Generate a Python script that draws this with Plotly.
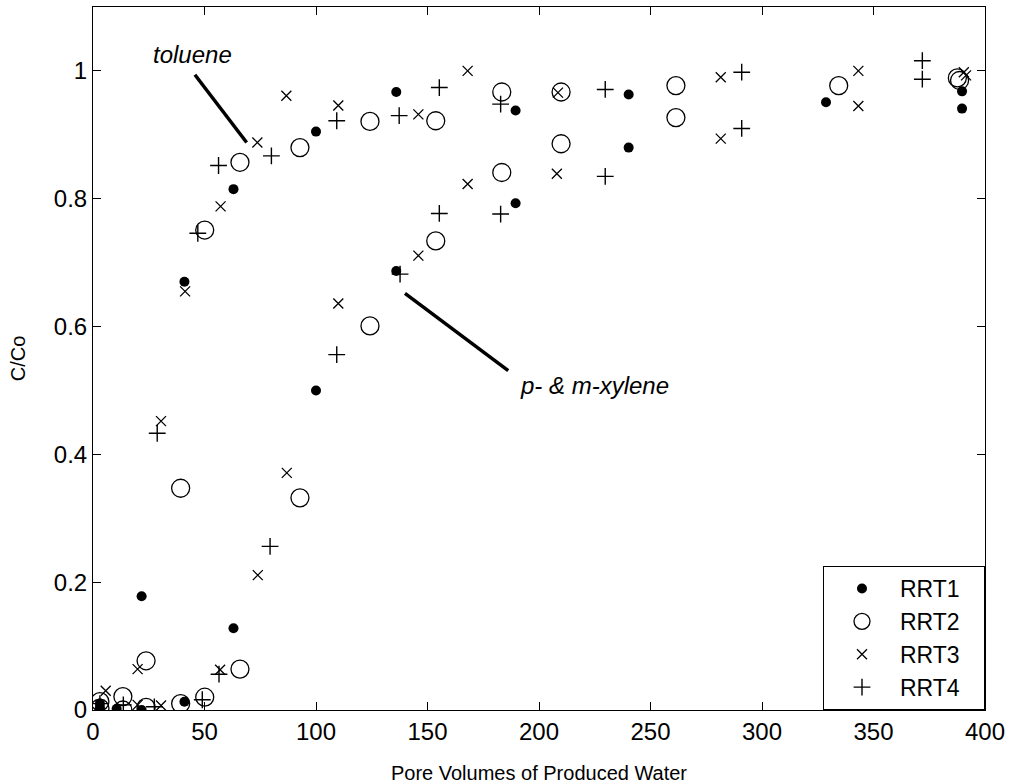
import plotly.graph_objects as go

# ---- data (pore volumes, C/Co) ----
rrt1_x = [3.1, 3.1, 10.6, 21.8, 21.8, 41.0, 41.0, 63.0, 63.0, 100.0, 100.0,
          136.0, 136.0, 189.5, 189.5, 240.2, 240.2, 328.7, 389.7, 389.7]
rrt1_y = [0.010, 0.004, 0.002, 0.178, 0.000, 0.670, 0.013, 0.815, 0.128, 0.905, 0.500,
          0.967, 0.687, 0.938, 0.793, 0.963, 0.880, 0.951, 0.968, 0.941]

rrt2_x = [3.1, 3.1, 13.4, 13.4, 23.8, 23.8, 39.3, 39.3, 50.1, 50.1, 65.9, 65.9,
          92.8, 92.8, 124.2, 124.2, 153.7, 153.7, 183.3, 183.3, 209.9, 209.9,
          261.4, 261.4, 334.4, 387.6, 388.6]
rrt2_y = [0.013, 0.003, 0.021, 0.000, 0.077, 0.004, 0.347, 0.010, 0.751, 0.020, 0.857, 0.064,
          0.880, 0.332, 0.921, 0.601, 0.922, 0.734, 0.967, 0.841, 0.967, 0.886,
          0.977, 0.927, 0.977, 0.989, 0.985]

rrt3_x = [3.1, 5.7, 20.0, 20.0, 30.5, 30.5, 41.3, 57.2, 57.0, 73.7, 73.9, 86.7, 86.9,
          110.0, 110.0, 145.9, 145.9, 168.0, 168.0, 208.5, 208.0, 281.5, 281.5,
          343.2, 343.2, 390.5, 391.5]
rrt3_y = [0.008, 0.030, 0.064, 0.008, 0.452, 0.007, 0.655, 0.788, 0.063, 0.888, 0.211, 0.961, 0.371,
          0.946, 0.636, 0.932, 0.711, 1.000, 0.823, 0.966, 0.839, 0.990, 0.894,
          1.000, 0.945, 0.998, 0.993]

rrt4_x = [3.1, 13.6, 27.5, 28.8, 47.0, 49.0, 56.3, 56.5, 80.0, 79.4, 109.3, 109.3,
          137.3, 137.7, 155.3, 155.3, 182.8, 182.8, 229.7, 229.7, 290.9, 290.9, 371.9, 371.9]
rrt4_y = [0.010, 0.008, 0.005, 0.433, 0.746, 0.016, 0.852, 0.056, 0.867, 0.256, 0.922, 0.556,
          0.930, 0.682, 0.974, 0.777, 0.948, 0.776, 0.971, 0.835, 0.998, 0.910, 1.016, 0.987]

series_names = ["RRT1", "RRT2", "RRT3", "RRT4"]

x_ticks = [0, 50, 100, 150, 200, 250, 300, 350, 400]
y_ticks = [0, 0.2, 0.4, 0.6, 0.8, 1.0]
y_tick_labels = ["0", "0.2", "0.4", "0.6", "0.8", "1"]

FONT = "Liberation Sans, Arial, sans-serif"
PAD = "\u00a0\u00a0\u00a0"  # right padding inside legend box

fig = go.Figure()
fig.add_trace(go.Scatter(x=rrt1_x, y=rrt1_y, mode="markers", name=series_names[0] + PAD,
                         marker=dict(symbol="circle", size=10, color="black",
                                     line=dict(width=0))))
fig.add_trace(go.Scatter(x=rrt2_x, y=rrt2_y, mode="markers", name=series_names[1] + PAD,
                         marker=dict(symbol="circle-open", size=18, color="black",
                                     line=dict(width=1.3, color="black"))))
fig.add_trace(go.Scatter(x=rrt3_x, y=rrt3_y, mode="markers", name=series_names[2] + PAD,
                         marker=dict(symbol="x-thin", size=10, color="black",
                                     line=dict(width=1.3, color="black"))))
fig.add_trace(go.Scatter(x=rrt4_x, y=rrt4_y, mode="markers", name=series_names[3] + PAD,
                         marker=dict(symbol="cross-thin", size=12, color="black",
                                     line=dict(width=1.4, color="black"))))

# annotation leader lines
fig.add_shape(type="line", x0=45.7, y0=0.994, x1=68.9, y1=0.888,
              line=dict(color="black", width=3.5), xref="x", yref="y")
fig.add_shape(type="line", x0=139.9, y0=0.652, x1=186.2, y1=0.531,
              line=dict(color="black", width=3.5), xref="x", yref="y")
fig.add_annotation(x=44.6, y=1.025, text="<i>toluene</i>", showarrow=False,
                   font=dict(family=FONT, size=24, color="black"))
fig.add_annotation(x=190.6, y=0.507, text="<i>p- &amp; m-xylene</i>", showarrow=False,
                   xanchor="left", font=dict(family=FONT, size=24, color="black"))

axis_common = dict(showline=True, linecolor="black", linewidth=1, mirror="ticks",
                   ticks="inside", ticklen=8, tickcolor="black", tickwidth=1,
                   showgrid=False, zeroline=False, automargin=False,
                   tickfont=dict(family=FONT, size=24, color="black"))

fig.update_layout(
    width=1012, height=784,
    margin=dict(l=93, r=27, t=7, b=74),
    paper_bgcolor="white", plot_bgcolor="white",
    font=dict(family=FONT, color="black"),
    xaxis=dict(range=[0, 400], tickvals=x_ticks,
               title=dict(text="Pore Volumes of Produced Water",
                          font=dict(family=FONT, size=20), standoff=22),
               **axis_common),
    yaxis=dict(range=[0, 1.1], tickvals=y_ticks, ticktext=y_tick_labels,
               title=dict(text="C/Co", font=dict(family=FONT, size=20), standoff=22),
               **axis_common),
    legend=dict(x=1, y=0, xanchor="right", yanchor="bottom",
                bgcolor="white", bordercolor="black", borderwidth=1,
                font=dict(family=FONT, size=23, color="black"),
                itemwidth=66),
    showlegend=True,
)

fig.write_html("out.html")
